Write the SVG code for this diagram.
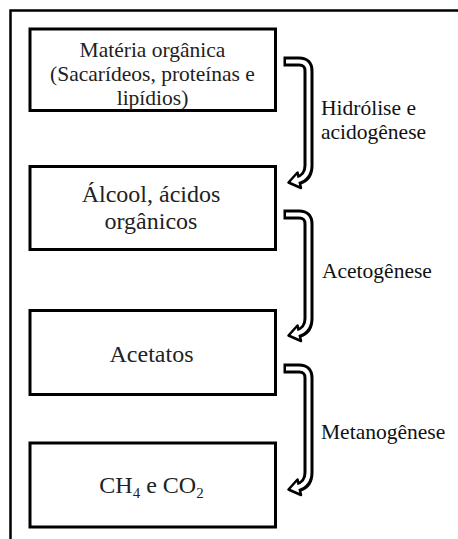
<svg xmlns="http://www.w3.org/2000/svg" xmlns:xlink="http://www.w3.org/1999/xlink" width="458" height="539" viewBox="0 0 458 539">
<style>
.frame{fill:none;stroke:#000;stroke-width:2.5}
.box{fill:#fff;stroke:#000;stroke-width:3}
.t{fill:#222;text-anchor:middle}
.s21{font-size:21.5px}
.s24{font-size:24px}
.lbl{font-size:21.5px;fill:#111}
.sb{fill:none;stroke:#000;stroke-width:10;stroke-linejoin:round}
.sw{fill:none;stroke:#fff;stroke-width:4;stroke-linejoin:round}
.hd{fill:#fff;stroke:#000;stroke-width:2.5;stroke-linejoin:round}
</style>
<defs>
<g id="hook">
<path class="sb" d="M283.5,0 H299 Q308.5,0 308.5,9.5 V104 Q308.5,115.5 299,118.5"/>
<polygon class="hd" points="288.5,121 297.5,111 301,126.5"/>
<path class="sw" d="M286,0 H299 Q308.5,0 308.5,9.5 V104 Q308.5,115.5 297,119"/>
</g>
</defs>
<rect width="458" height="539" fill="#fff"/>
<rect class="frame" x="10.5" y="10.5" width="460" height="540"/>
<g font-family="Liberation Serif, Tinos, DejaVu Serif, serif">
<g id="node-materia">
<rect class="box" x="30" y="29" width="245.5" height="81.5"/>
<text class="t s21" x="152.5" y="57">Matéria orgânica</text>
<text class="t s21" x="152.5" y="81">(Sacarídeos, proteínas e</text>
<text class="t s21" x="152.5" y="105">lipídios)</text>
</g>
<g id="node-alcool">
<rect class="box" x="30" y="166.5" width="245.5" height="83"/>
<text class="t s24" x="151" y="202">Álcool, ácidos</text>
<text class="t s24" x="151" y="229">orgânicos</text>
</g>
<g id="node-acetatos">
<rect class="box" x="30" y="310.5" width="245.5" height="84"/>
<text class="t s24" x="151.5" y="362">Acetatos</text>
</g>
<g id="node-ch4">
<rect class="box" x="30" y="443" width="245.5" height="84"/>
<text class="t s24" x="151.5" y="493">CH<tspan font-size="15" dy="5">4</tspan><tspan dy="-5"> e CO</tspan><tspan font-size="15" dy="5">2</tspan></text>
</g>
<g id="connectors">
<use xlink:href="#hook" transform="translate(0,61.5)"/>
<use xlink:href="#hook" transform="translate(0,214.5)"/>
<use xlink:href="#hook" transform="translate(0,368.5)"/>
<text class="lbl" x="321" y="115">Hidrólise e</text>
<text class="lbl" x="321" y="139">acidogênese</text>
<text class="lbl" x="322" y="278">Acetogênese</text>
<text class="lbl" x="321" y="439">Metanogênese</text>
</g>
</g>
</svg>
